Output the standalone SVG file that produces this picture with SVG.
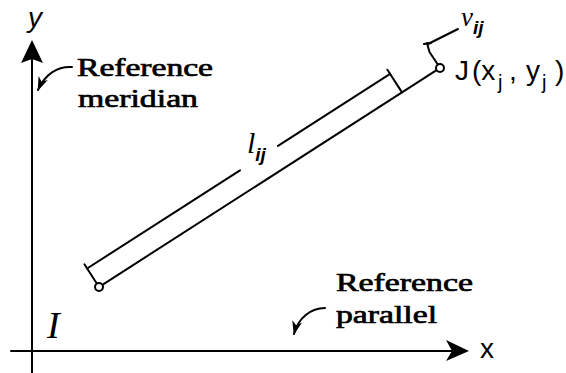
<svg xmlns="http://www.w3.org/2000/svg" width="566" height="373" viewBox="0 0 566 373">
<style>
.ln{stroke:#000;stroke-width:2;fill:none;stroke-linecap:round;stroke-linejoin:round}
.pt{stroke:#000;stroke-width:2;fill:#fff}
.serif{font-family:"Liberation Serif","Times New Roman",serif;fill:#000}
.sans{font-family:"Liberation Sans",Arial,sans-serif;fill:#000}
.ref{font-size:25px;stroke:#000;stroke-width:0.7}
</style>
<defs>
<marker id="lead" viewBox="0 0 14 10" refX="13" refY="5" markerWidth="15" markerHeight="10" markerUnits="userSpaceOnUse" orient="auto">
<path d="M0,0 L14,5 L0,10 L4,5 z" fill="#000"/>
</marker>
</defs>
<g id="axes">
<line class="ln" x1="32" y1="373" x2="32" y2="56"/>
<path d="M32,40 L43,63 L32,59 L21,63 z" fill="#000"/>
<line class="ln" x1="11" y1="351" x2="455" y2="351"/>
<path d="M469,351 L446,340 L452,351 L446,361 z" fill="#000"/>
<text class="sans" x="28" y="27" font-size="28" font-style="italic">y</text>
<text class="sans" x="480" y="358" font-size="28">x</text>
</g>
<g id="connectors">
<line class="ln" x1="102.4" y1="284.8" x2="436.6" y2="70.2"/>
<line class="ln" x1="96.3" y1="282.8" x2="84.4" y2="264.3"/>
<line class="ln" x1="402" y1="92.4" x2="387.4" y2="69.7"/>
<line class="ln" x1="87.1" y1="268.5" x2="240" y2="170.3"/>
<line class="ln" x1="278" y1="145.9" x2="390.1" y2="73.9"/>
<polyline class="ln" points="437.3,63.8 429.5,52 427,43"/>
<line class="ln" x1="458" y1="29" x2="428" y2="44"/>
<line class="ln" x1="424" y1="44" x2="431" y2="43"/>
<path class="ln" d="M72,67 C58,66 45,74 38,90" marker-end="url(#lead)"/>
<path class="ln" d="M325,308 C311,308 298,318 294,334" marker-end="url(#lead)"/>
</g>
<g id="node-I">
<circle class="pt" cx="99" cy="287" r="4"/>
<text class="serif" x="47" y="338" font-size="38" font-style="italic">I</text>
</g>
<g id="node-J">
<circle class="pt" cx="440" cy="68" r="4"/>
<text class="sans" y="80" font-size="28"><tspan x="455">J</tspan><tspan x="472">(x</tspan><tspan x="498" y="89" font-size="20">j</tspan><tspan x="509" y="80">,</tspan><tspan x="526">y</tspan><tspan x="542" y="89" font-size="20">j</tspan><tspan x="555" y="80">)</tspan></text>
</g>
<g id="label-lij">
<text class="serif" x="247" y="153" font-size="30" font-style="italic">l<tspan class="sans" font-size="19" dy="8" font-weight="bold">ij</tspan></text>
</g>
<g id="label-vij">
<text class="serif" x="461" y="26" font-size="27" font-style="italic">v<tspan class="sans" font-size="19" dy="8" font-weight="bold">ij</tspan></text>
</g>
<g id="label-meridian">
<text class="serif ref" x="77" y="76" textLength="136" lengthAdjust="spacingAndGlyphs">Reference</text>
<text class="serif ref" x="78" y="107" textLength="120" lengthAdjust="spacingAndGlyphs">meridian</text>
</g>
<g id="label-parallel">
<text class="serif ref" x="336" y="291" textLength="137" lengthAdjust="spacingAndGlyphs">Reference</text>
<text class="serif ref" x="336" y="323" textLength="101" lengthAdjust="spacingAndGlyphs">parallel</text>
</g>
</svg>
